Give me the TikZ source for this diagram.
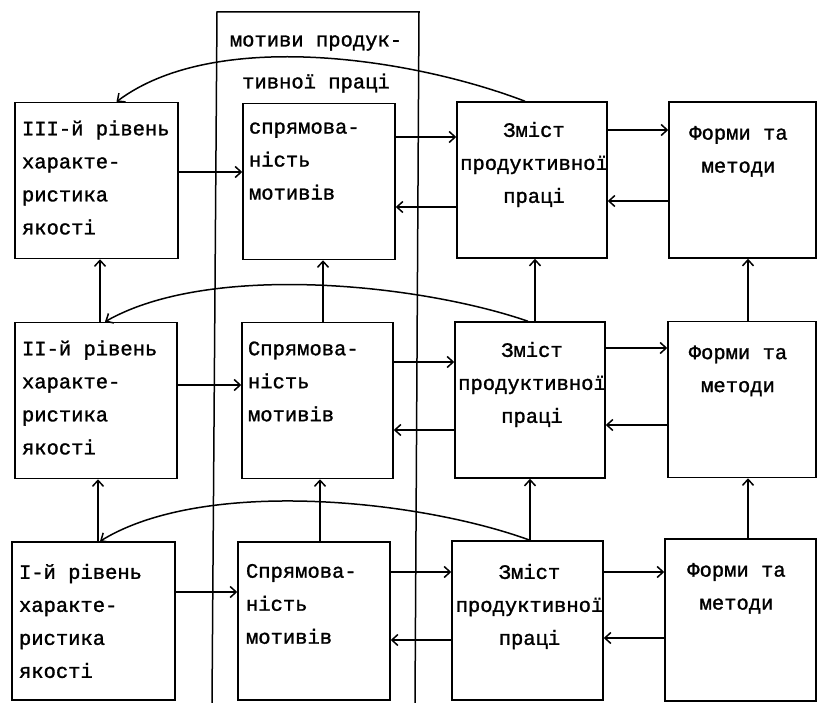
\documentclass[tikz,border=0pt]{standalone}
\usepackage{fontspec}
\setmainfont{Liberation Mono}[FakeBold=1.3]
\usetikzlibrary{arrows.meta}

\tikzset{
  box/.style={draw, minimum height=156pt},
  txt/.style={inner sep=0pt, font=\fontsize{20.5}{33}\selectfont},
}

\begin{document}
\begin{tikzpicture}[x=1pt, y=-1pt, line width=1.5pt, >={Straight Barb[length=6pt,width=11pt]}]
\useasboundingbox (0,0) rectangle (819,703);

% column of motives
\draw (212,703) -- (217,12) -- (419,12) -- (415,703);
\node[txt, align=center, font=\fontsize{20.5}{42}\selectfont] (title) at (316,64) {мотиви продук-\\тивної праці};

% level III
\node[box, minimum width=163pt] (a3) at (96.5,180.5) {};
\node[box, minimum width=152pt] (b3) at (319,181.5) {};
\node[box, minimum width=150pt] (c3) at (532,180) {};
\node[box, minimum width=147pt] (d3) at (742.5,180) {};
% level II
\node[box, minimum width=162pt] (a2) at (96,400.5) {};
\node[box, minimum width=151pt] (b2) at (317.5,400.5) {};
\node[box, minimum width=150pt] (c2) at (530,400) {};
\node[box, minimum width=148pt] (d2) at (742,399.5) {};
% level I
\node[box, minimum width=163pt, minimum height=158pt] (a1) at (93.5,621) {};
\node[box, minimum width=152pt, minimum height=158pt] (b1) at (314,621) {};
\node[box, minimum width=151pt, minimum height=159pt] (c1) at (527.5,620.5) {};
\node[box, minimum width=151pt, minimum height=162pt] (d1) at (740.5,620) {};

% texts
\node[txt, align=left, anchor=north west] (a3t) at ([shift={(7pt,-18pt)}]a3.north west) {III-й рівень\\характе-\\ристика\\якості};
\node[txt, align=left, anchor=north west] (b3t) at ([shift={(6pt,-19pt)}]b3.north west) {спрямова-\\ність\\мотивів};
\node[txt, align=center, anchor=north] (c3t) at ([shift={(2pt,-20pt)}]c3.north) {Зміст\\продуктивної\\праці};
\node[txt, align=center, anchor=north] (d3t) at ([shift={(-4pt,-24pt)}]d3.north) {Форми та\\методи};

\node[txt, align=left, anchor=north west] (a2t) at ([shift={(7pt,-18pt)}]a2.north west) {II-й рівень\\характе-\\ристика\\якості};
\node[txt, align=left, anchor=north west] (b2t) at ([shift={(6pt,-19pt)}]b2.north west) {Спрямова-\\ність\\мотивів};
\node[txt, align=center, anchor=north] (c2t) at ([shift={(2pt,-20pt)}]c2.north) {Зміст\\продуктивної\\праці};
\node[txt, align=center, anchor=north] (d2t) at ([shift={(-4pt,-24pt)}]d2.north) {Форми та\\методи};

\node[txt, align=left, anchor=north west] (a1t) at ([shift={(7pt,-22pt)}]a1.north west) {I-й рівень\\характе-\\ристика\\якості};
\node[txt, align=left, anchor=north west] (b1t) at ([shift={(8pt,-22pt)}]b1.north west) {Спрямова-\\ність\\мотивів};
\node[txt, align=center, anchor=north] (c1t) at ([shift={(2pt,-23pt)}]c1.north) {Зміст\\продуктивної\\праці};
\node[txt, align=center, anchor=north] (d1t) at ([shift={(-4pt,-24pt)}]d1.north) {Форми та\\методи};

% links inside level III
\draw[->] ([yshift=8.5pt]a3.east) -- ([yshift=8.5pt]a3.east -| b3.west);
\draw[->] ([yshift=44.5pt]b3.east) -- ([yshift=44.5pt]b3.east -| c3.west);
\draw[->] ([yshift=-27pt]c3.west) -- ([yshift=-27pt]c3.west -| b3.east);
\draw[->] ([yshift=50pt]c3.east) -- ([yshift=50pt]c3.east -| d3.west);
\draw[->] ([yshift=-21pt]d3.west) -- ([yshift=-21pt]d3.west -| c3.east);
\draw[->] ([xshift=-7pt]c3.north) .. controls (412,58) and (215,28) .. ([xshift=20pt]a3.north);

% links inside level II
\draw[->] ([yshift=15.5pt]a2.east) -- ([yshift=15.5pt]a2.east -| b2.west);
\draw[->] ([yshift=38.5pt]b2.east) -- ([yshift=38.5pt]b2.east -| c2.west);
\draw[->] ([yshift=-30pt]c2.west) -- ([yshift=-30pt]c2.west -| b2.east);
\draw[->] ([yshift=52pt]c2.east) -- ([yshift=52pt]c2.east -| d2.west);
\draw[->] ([yshift=-25.5pt]d2.west) -- ([yshift=-25.5pt]d2.west -| c2.east);
\draw[->] ([xshift=-2pt]c2.north) .. controls (420,284) and (210,262) .. ([xshift=9pt]a2.north);

% links inside level I
\draw[->] ([yshift=29pt]a1.east) -- ([yshift=29pt]a1.east -| b1.west);
\draw[->] ([yshift=49pt]b1.east) -- ([yshift=49pt]b1.east -| c1.west);
\draw[->] ([yshift=-19.5pt]c1.west) -- ([yshift=-19.5pt]c1.west -| b1.east);
\draw[->] ([yshift=48.5pt]c1.east) -- ([yshift=48.5pt]c1.east -| d1.west);
\draw[->] ([yshift=-18pt]d1.west) -- ([yshift=-18pt]d1.west -| c1.east);
\draw[->] ([xshift=2.5pt]c1.north) .. controls (420,500) and (205,477) .. ([xshift=6.5pt]a1.north);

% from level to level
\draw[->] ([xshift=4pt]a2.north) -- ([xshift=4pt]a2.north |- a3.south);
\draw[->] ([xshift=5.5pt]b2.north) -- ([xshift=5.5pt]b2.north |- b3.south);
\draw[->] ([xshift=5pt]c2.north) -- ([xshift=5pt]c2.north |- c3.south);
\draw[->] ([xshift=6pt]d2.north) -- ([xshift=6pt]d2.north |- d3.south);
\draw[->] ([xshift=4.5pt]a1.north) -- ([xshift=4.5pt]a1.north |- a2.south);
\draw[->] ([xshift=6pt]b1.north) -- ([xshift=6pt]b1.north |- b2.south);
\draw[->] ([xshift=2.5pt]c1.north) -- ([xshift=2.5pt]c1.north |- c2.south);
\draw[->] ([xshift=7.5pt]d1.north) -- ([xshift=7.5pt]d1.north |- d2.south);
\end{tikzpicture}
\end{document}
